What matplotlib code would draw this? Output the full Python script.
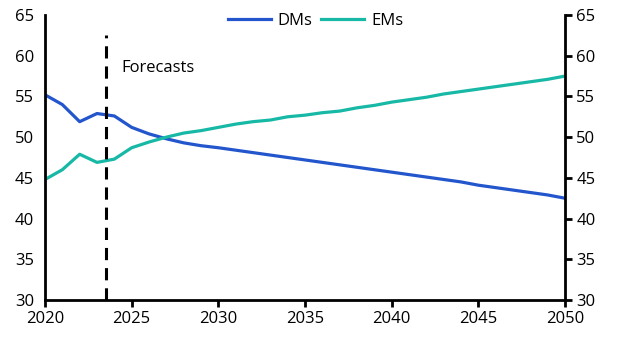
import numpy as np
import matplotlib.pyplot as plt

plt.rcParams['font.family'] = ['Open Sans', 'DejaVu Sans']

years = list(range(2020, 2051))
dms = [55.2, 54.0, 51.9, 52.9, 52.6, 51.2, 50.4, 49.8, 49.3, 48.95,
       48.7, 48.4, 48.1, 47.8, 47.5, 47.2, 46.9, 46.6, 46.3, 46.0,
       45.7, 45.4, 45.1, 44.8, 44.5, 44.1, 43.8, 43.5, 43.2, 42.9, 42.5]
ems = [44.8, 46.0, 47.9, 46.9, 47.3, 48.7, 49.4, 50.0, 50.5, 50.8,
       51.2, 51.6, 51.9, 52.1, 52.5, 52.7, 53.0, 53.2, 53.6, 53.9,
       54.3, 54.6, 54.9, 55.3, 55.6, 55.9, 56.2, 56.5, 56.8, 57.1, 57.5]
forecast_start = 2023.5
forecast_top = 62.6
yticks = [30, 35, 40, 45, 50, 55, 60, 65]
xticks = [2020, 2025, 2030, 2035, 2040, 2045, 2050]

fig = plt.figure(figsize=(6.19, 3.47), dpi=100)
ax = fig.add_axes([0.0727, 0.1354, 0.8401, 0.8214])

ax.plot(years, dms, color='#2356CC', lw=2.3, label='DMs')
ax.plot(years, ems, color='#17B9A6', lw=2.3, label='EMs')
ax.plot([forecast_start, forecast_start], [30, forecast_top], color='black',
        lw=2.2, dashes=(4, 2.6))
ax.text(2024.4, 58.5, 'Forecasts', fontsize=12, va='center', ha='left')

ax.set_xlim(2020, 2050)
ax.set_ylim(30, 65)
ax.set_xticks(xticks)
ax.set_yticks(yticks)

ax.spines['top'].set_visible(False)
for s in ['left', 'right', 'bottom']:
    ax.spines[s].set_linewidth(2)

ax.tick_params(axis='x', direction='out', length=5, width=2, labelsize=12, pad=3)
ax.tick_params(axis='y', which='both', left=False, right=True, labelleft=True,
               labelright=True, direction='out', length=5, width=2,
               labelsize=12, pad=3)

ax.legend(loc='upper center', bbox_to_anchor=(0.52, 1.06), ncol=2, frameon=False,
          fontsize=12, handlelength=2.6, handletextpad=0.4, columnspacing=0.5)

fig.savefig('out.png', dpi=100)
